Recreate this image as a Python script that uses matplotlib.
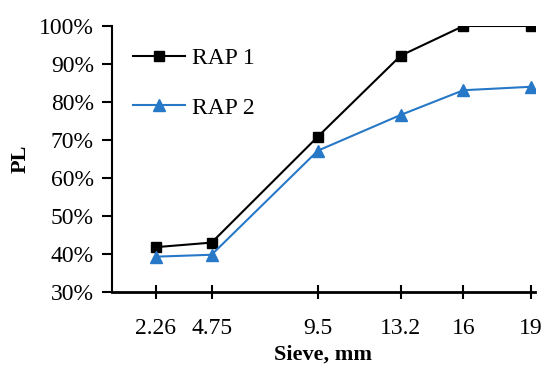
import matplotlib.pyplot as plt
from matplotlib.ticker import PercentFormatter

sieve = [2.26, 4.75, 9.5, 13.2, 16, 19]
sieve_labels = ["2.26", "4.75", "9.5", "13.2", "16", "19"]
rap1 = [41.8, 43.0, 70.9, 92.2, 100.0, 100.0]
rap2 = [39.3, 39.8, 67.2, 76.6, 83.1, 84.0]

plt.rcParams['font.family'] = ['Liberation Serif', 'DejaVu Serif']

fig = plt.figure(figsize=(5.5, 3.7), dpi=100)
ax = fig.add_axes([112 / 550, 1 - 292 / 370, (535 - 112) / 550, (292 - 26) / 370])

ax.plot(sieve, rap1, color='black', marker='s', markersize=7, linewidth=1.5, label='RAP 1')
ax.plot(sieve, rap2, color='#2878c8', marker='^', markersize=8, linewidth=1.5, label='RAP 2')

ax.set_xlim(0.3, 19.2)
ax.set_ylim(30, 100)
ax.set_xticks(sieve)
ax.set_xticklabels(sieve_labels)
ax.set_yticks(range(30, 101, 10))
ax.yaxis.set_major_formatter(PercentFormatter(decimals=0))

ax.spines['top'].set_visible(False)
ax.spines['right'].set_visible(False)
ax.spines['left'].set_linewidth(1.5)
ax.spines['bottom'].set_linewidth(2)
ax.tick_params(axis='y', direction='out', length=7, width=1.5, labelsize=17, pad=6)
ax.tick_params(axis='x', direction='inout', length=10, width=1.5, labelsize=17, pad=14)

ax.set_xlabel('Sieve, mm', fontsize=16, fontweight='bold', labelpad=4)
ax.set_ylabel('PL', fontsize=16, fontweight='bold', labelpad=6)

ax.legend(loc='upper left', bbox_to_anchor=(0.0, 1.0), frameon=False, fontsize=17,
          labelspacing=1.2, handlelength=2.2, handletextpad=0.3)

fig.savefig('out.png', dpi=100)
